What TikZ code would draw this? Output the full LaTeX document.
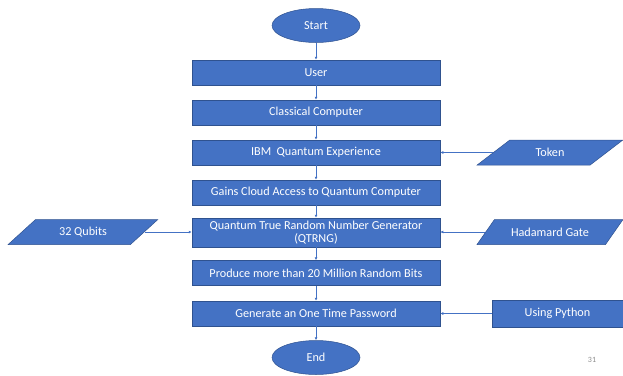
\documentclass[tikz,border=0pt]{standalone}
\usepackage{fontspec}
\setmainfont{Carlito}
\usepackage{tikz}
\usetikzlibrary{positioning,arrows.meta,shapes.geometric}
\definecolor{offB}{HTML}{4472C4}
\definecolor{offBd}{HTML}{2F528F}

\begin{document}
\begin{tikzpicture}[x=1pt, y=-1pt,
  every node/.style={font=\fontsize{12.2}{13.5}\selectfont, text=white},
  procbox/.style={rectangle, draw=offBd, line width=0.5pt, fill=offB,
              minimum width=248pt, minimum height=25pt, align=center, inner sep=1pt},
  term/.style={ellipse, draw=offBd, line width=0.5pt, fill=offB,
              minimum width=88pt, minimum height=34pt, inner sep=0pt},
  datain/.style={trapezium, trapezium left angle=40, trapezium right angle=140,
              trapezium stretches=true, draw=offBd, line width=0.5pt, fill=offB,
              minimum width=146pt, minimum height=25pt, inner sep=1pt},
  arr/.style={-{Latex[length=3pt,width=3pt]}, line width=0.6pt, offB}
]
  \useasboundingbox (0,0) rectangle (623,375);
  % ---- main column ----
  \node[term]    (start) at (316, 25.5) {Start};
  \node[procbox] (user)  at (316, 72.5) {User};
  \node[procbox] (cc)    at (316,112.5) {Classical Computer};
  \node[procbox] (ibm)   at (316,152.5) {IBM\ \ Quantum Experience};
  \node[procbox] (cloud) at (316,192.5) {Gains Cloud Access to Quantum Computer};
  \node[procbox, minimum height=29pt, inner ysep=0.5pt] (qtrng) at (316,232.5)
        {Quantum True Random Number Generator\\(QTRNG)};
  \node[procbox] (bits)  at (316,273)   {Produce more than 20 Million Random Bits};
  \node[procbox] (otp)   at (316,313.5) {Generate an One Time Password};
  \node[term]    (stop)  at (316,357.5) {End};
  \draw[arr] (start) -- (user);
  \draw[arr] (user) -- (cc);
  \draw[arr] (cc) -- (ibm);
  \draw[arr] (ibm) -- (cloud);
  \draw[arr] (cloud) -- (qtrng);
  \draw[arr] (qtrng) -- (bits);
  \draw[arr] (bits) -- (otp);
  \draw[arr] (otp) -- (stop);
  % ---- side inputs ----
  \node[datain, minimum width=150pt] (qub) at (83,232) {32 Qubits};
  \node[datain] (tok) at (550,152.5) {Token};
  \node[datain] (had) at (550,232)   {Hadamard Gate};
  \node[procbox, minimum width=131pt, minimum height=27pt] (py) at (557.5,313.5) {Using Python};
  \draw[arr] (qub.east) -- (qtrng.west |- qub.east);
  \draw[arr] (tok.west) -- (ibm.east |- tok.west);
  \draw[arr] (had.west) -- (qtrng.east |- had.west);
  \draw[arr] (py.west) -- (otp.east);
  \node[text=black!45, font=\fontsize{8}{9}\selectfont] (pg) at (592,360) {31};
\end{tikzpicture}
\end{document}
